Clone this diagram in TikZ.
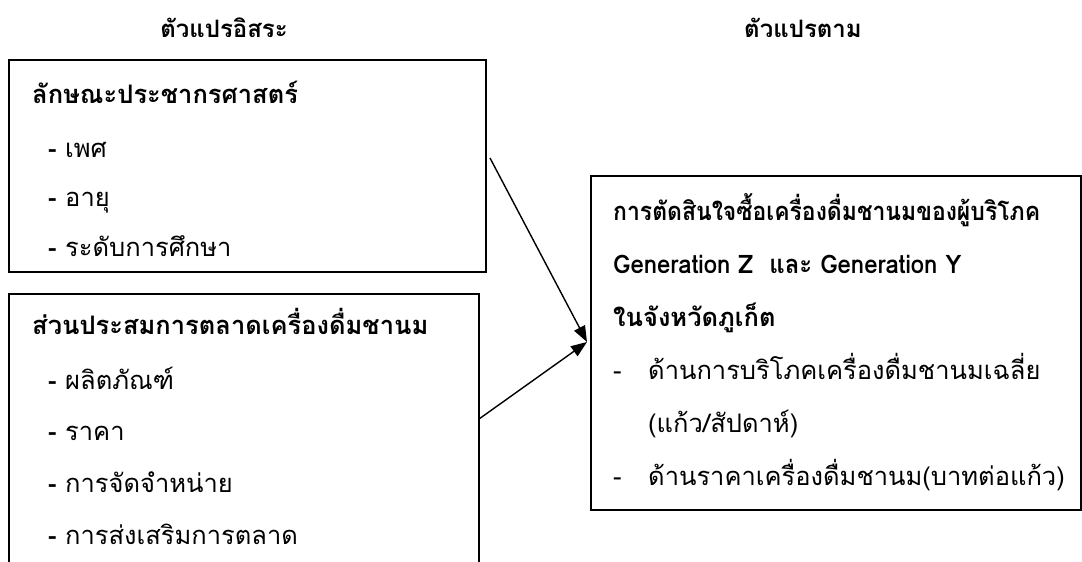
\documentclass[tikz,border=0pt]{standalone}
\usepackage{fontspec}
\setmainfont[Script=Thai]{Loma}
\usetikzlibrary{arrows.meta}
\begin{document}
\begin{tikzpicture}[x=1pt,y=-1pt,
  boxline/.style={draw=black,line width=1.8pt},
  frame/.style={inner sep=0pt,outer sep=0pt,anchor=north west},
  txt/.style={inner sep=0pt,anchor=west,text height=17pt,text depth=7pt,font=\fontsize{25.5}{30}\selectfont},
  btxt/.style={txt,font=\fontsize{25.5}{30}\selectfont\bfseries},
  head/.style={inner sep=0pt,font=\fontsize{24}{28}\selectfont\bfseries},
  conn/.style={line width=1.4pt,-{Triangle[length=16pt,width=12pt]}}]
\useasboundingbox (0,0) rectangle (1082,562);
% headings
\node[head] (h1) at (224,28) {ตัวแปรอิสระ};
\node[head] (h2) at (803,28) {ตัวแปรตาม};
% top-left box
\node[frame,boxline,minimum width=477pt,minimum height=212pt] (demo) at (9,60) {};
\node[btxt] (d0) at (32,98) {ลักษณะประชากรศาสตร์};
\node[btxt] (d1a) at (48,152) {-};
\node[txt] (d1) at (65,152) {เพศ};
\node[btxt] (d2a) at (48,201) {-};
\node[txt] (d2) at (65,201) {อายุ};
\node[btxt] (d3a) at (48,251) {-};
\node[txt] (d3) at (65,251) {ระดับการศึกษา};
% bottom-left box (open at the bottom)
\node[frame,minimum width=470pt,minimum height=268pt] (mix) at (9,294) {};
\draw[line width=1.8pt] (mix.south west) -- (mix.north west) -- (mix.north east) -- (mix.south east);
\node[btxt] (m0) at (32,329) {ส่วนประสมการตลาดเครื่องดื่มชานม};
\node[btxt] (m1a) at (48,384) {-};
\node[txt] (m1) at (65,384) {ผลิตภัณฑ์};
\node[btxt] (m2a) at (48,435) {-};
\node[txt] (m2) at (65,435) {ราคา};
\node[btxt] (m3a) at (48,487) {-};
\node[txt] (m3) at (65,487) {การจัดจำหน่าย};
\node[btxt] (m4a) at (48,539) {-};
\node[txt] (m4) at (65,539) {การส่งเสริมการตลาด};
% right box
\node[frame,boxline,minimum width=490pt,minimum height=334pt] (dec) at (591,176) {};
\node[btxt] (r1) at (613,215) {\scalebox{0.9}[1]{การตัดสินใจซื้อเครื่องดื่มชานมของผู้บริโภค}};
\node[btxt] (r2) at (613,268) {\scalebox{0.94}[1]{Generation Z\ \ และ Generation Y}};
\node[btxt] (r3) at (613,321) {ในจังหวัดภูเก็ต};
\node[txt] (r4a) at (613,374) {-};
\node[txt] (r4) at (648,374) {ด้านการบริโภคเครื่องดื่มชานมเฉลี่ย};
\node[txt] (r5) at (648,427) {(แก้ว/สัปดาห์)};
\node[txt] (r6a) at (613,480) {-};
\node[txt] (r6) at (648,480) {ด้านราคาเครื่องดื่มชานม(บาทต่อแก้ว)};
% connectors
\coordinate (s1) at (490,158);
\coordinate (s2) at ([yshift=-125pt]mix.north east);
\coordinate (tip) at ([xshift=-4pt,yshift=-166pt]dec.north west);
\draw[conn] (s1) -- (tip);
\draw[conn] (s2) -- (tip);
\end{tikzpicture}
\end{document}
